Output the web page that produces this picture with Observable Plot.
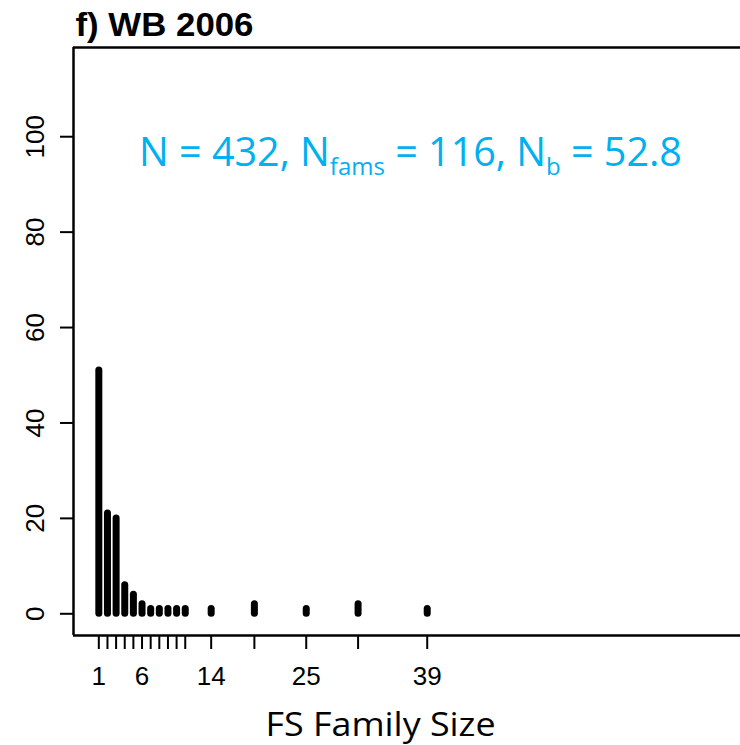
<!DOCTYPE html>
<html>
<head>
<meta charset="utf-8">
<script src="https://cdn.jsdelivr.net/npm/d3@7"></script>
<script src="https://cdn.jsdelivr.net/npm/@observablehq/plot@0.6"></script>
<style>
  body { margin: 0; background: #fff; }
  svg { display: block; }
</style>
</head>
<body>
<div id="chart"></div>
<script>
// Full-sib family sizes and the number of families of each size
const familySizes  = [1, 2, 3, 4, 5, 6, 7, 8, 9, 10, 11, 14, 19, 25, 31, 39];
const familyCounts = [51, 21, 20, 6, 4, 2, 1, 1, 1, 1, 1, 1, 2, 1, 2, 1];
const xLabelTicks  = [1, 6, 14, 25, 39];
const yTicks       = [0, 20, 40, 60, 80, 100];
const panelTitle   = "f) WB 2006";
const xTitle       = "FS Family Size";
const effectiveBreeders = 52.8;

const families = familySizes.map((size, i) => ({size, count: familyCounts[i]}));
const nIndividuals = d3.sum(families, d => d.size * d.count);
const nFamilies = d3.sum(families, d => d.count);
const summaryKey = "N-summary";

// plotting region limits (the right side runs off the panel)
const xDomain = [-1.93, 75.25];
const yDomain = [-4.55, 118.7];

const sansR = "'Liberation Sans', Arial, Helvetica, sans-serif";
const sansC = "'Open Sans', Calibri, sans-serif";
const blue = "#00B0F0";

const chart = Plot.plot({
  width: 740,
  height: 745,
  marginLeft: 73,
  marginRight: 0,
  marginTop: 47,
  marginBottom: 110,
  x: {domain: xDomain, axis: null},
  y: {domain: yDomain, axis: null},
  style: {fontFamily: sansR, background: "white", color: "black"},
  marks: [
    // box: top, bottom and left edges
    Plot.ruleY([yDomain[1]], {stroke: "black", strokeWidth: 2.5}),
    Plot.ruleY([yDomain[0]], {stroke: "black", strokeWidth: 2.5}),
    Plot.ruleX([xDomain[0]], {stroke: "black", strokeWidth: 2.5}),

    // axis ticks
    Plot.axisY({ticks: yTicks, tickSize: 13, strokeWidth: 2, fill: "none", label: null}),
    Plot.axisX({ticks: familySizes, tickSize: 14, strokeWidth: 2, fill: "none", label: null}),

    // tick labels
    Plot.text(yTicks, {
      y: d => d, text: d => String(d), frameAnchor: "left", rotate: -90,
      dx: -29.5, textAnchor: "middle", lineAnchor: "bottom", fontSize: 26, fill: "black"
    }),
    Plot.text(xLabelTicks, {
      x: d => d, text: d => String(d), frameAnchor: "bottom",
      dy: 49, lineAnchor: "bottom", fontSize: 26, fill: "black"
    }),

    // family-size spikes
    Plot.ruleX(families, {
      x: "size", y1: 0, y2: "count",
      stroke: "black", strokeWidth: 7, strokeLinecap: "round"
    }),

    // panel title
    Plot.text([panelTitle], {
      frameAnchor: "top-left", textAnchor: "start", lineAnchor: "bottom",
      dx: 2, dy: -12, fontWeight: "bold", fontSize: 33, fill: "black"
    }),

    // sample summary (rebuilt with subscripts below)
    Plot.text([summaryKey], {
      frameAnchor: "top", dx: 3.5, dy: 118, lineAnchor: "bottom",
      fontFamily: sansC, fontSize: 39.5, fill: blue
    }),

    // x-axis title
    Plot.text([xTitle], {
      frameAnchor: "bottom", dx: -26.5, dy: 100, lineAnchor: "bottom",
      fontFamily: sansC, fontSize: 32, fill: "black"
    })
  ]
});

const svg = d3.select(chart);
const textWith = s => svg.selectAll("text").filter(function () { return this.textContent === s; });

// summary line with subscripts
const summary = textWith(summaryKey);
summary.text(null);
summary.append("tspan").text(`N = ${nIndividuals}, N`);
summary.append("tspan").attr("font-size", 24).attr("dy", 9).text("fams");
summary.append("tspan").attr("dy", -9).text(` = ${nFamilies}, N`);
summary.append("tspan").attr("font-size", 24).attr("dy", 9).text("b");
summary.append("tspan").attr("dy", -9).text(` = ${effectiveBreeders}`);

textWith(panelTitle).attr("textLength", 178).attr("lengthAdjust", "spacingAndGlyphs");
textWith(xTitle).attr("textLength", 230).attr("lengthAdjust", "spacingAndGlyphs");

document.getElementById("chart").append(chart);
</script>
</body>
</html>
